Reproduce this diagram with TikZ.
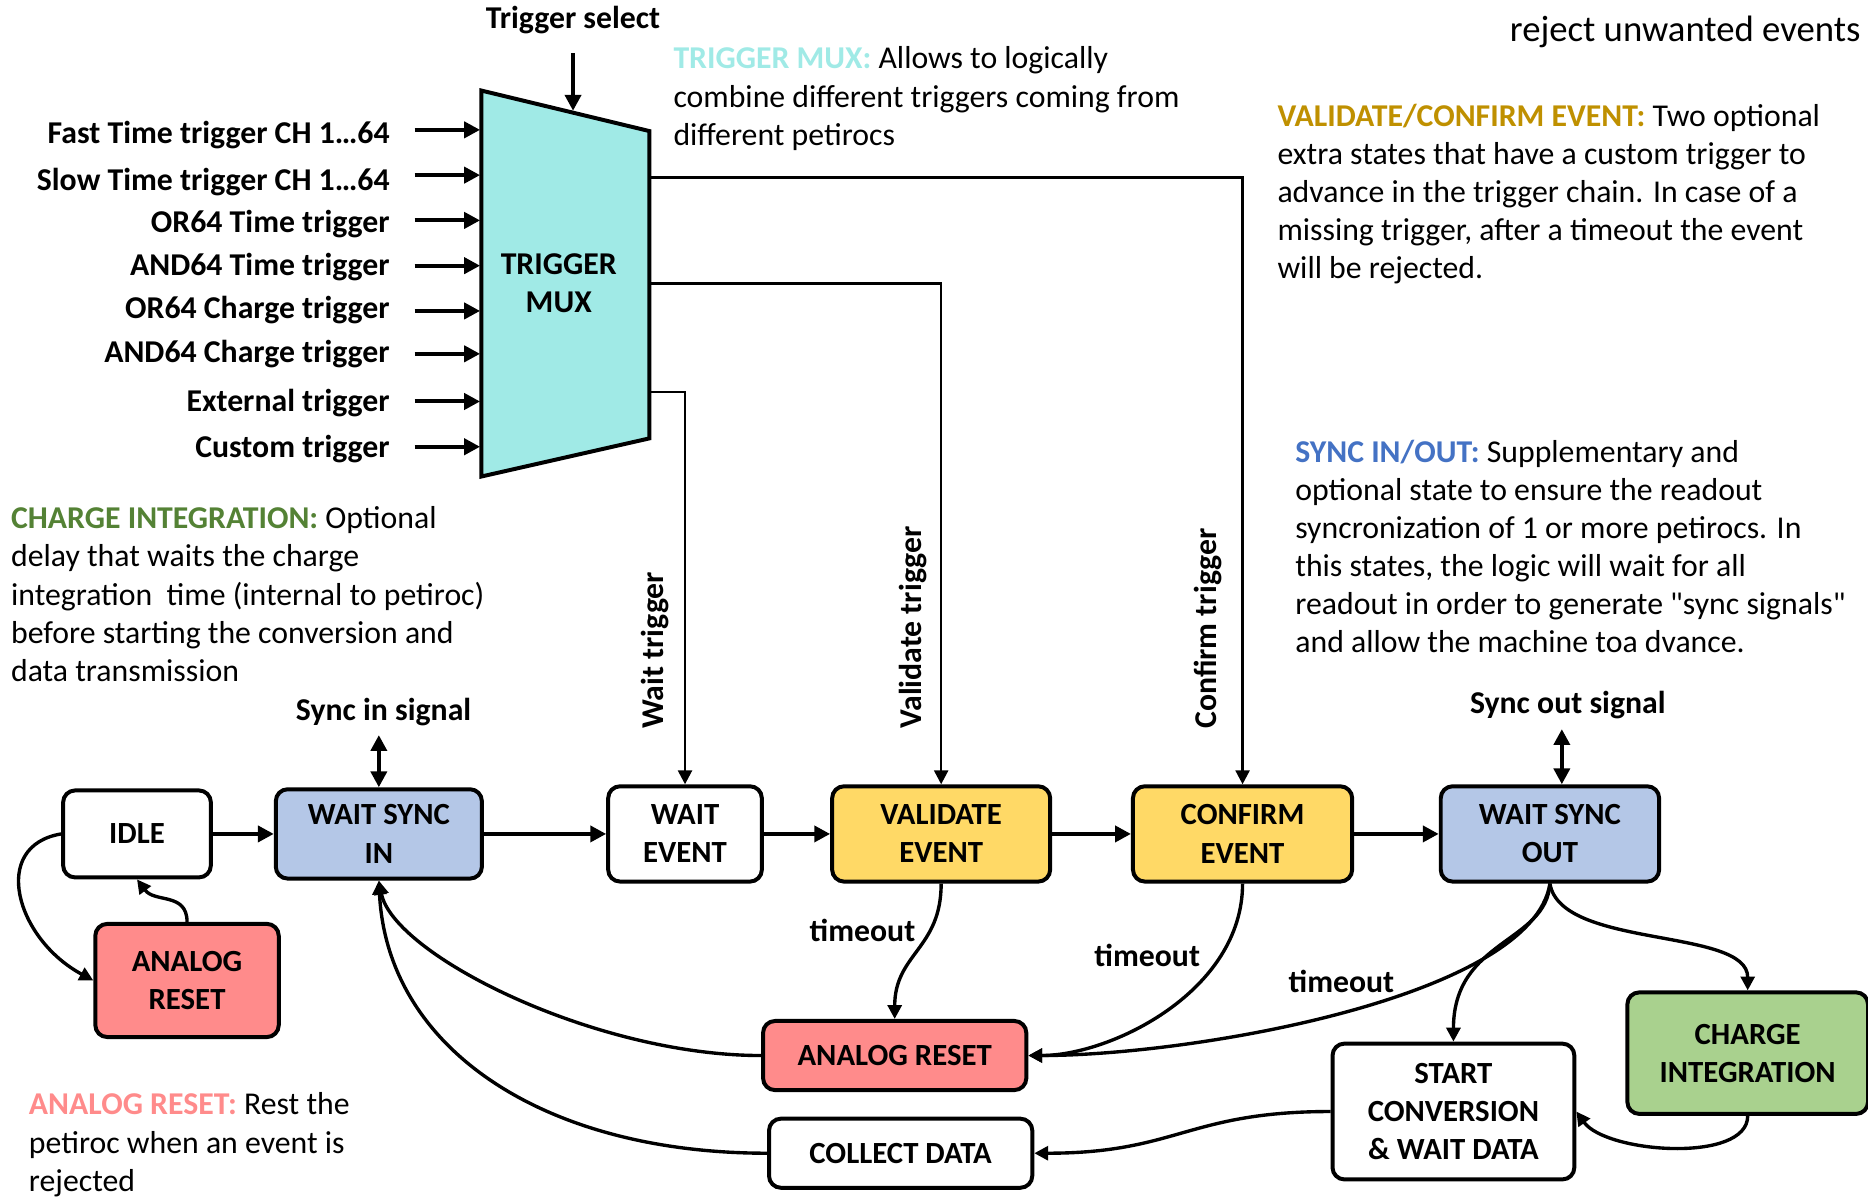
\documentclass[tikz,border=0pt]{standalone}
\usepackage{fontspec}
\setmainfont{Carlito}
\newfontfamily\plainfont{Carlito}
\usetikzlibrary{arrows.meta}
\definecolor{muxcyan}{HTML}{A0EAE6}
\definecolor{syncblue}{HTML}{B4C7E7}
\definecolor{synctext}{HTML}{4472C4}
\definecolor{eventgold}{HTML}{FFD966}
\definecolor{goldtext}{HTML}{BF9000}
\definecolor{resetred}{HTML}{FF8B8B}
\definecolor{chargegreen}{HTML}{A9D18E}
\definecolor{chargetext}{HTML}{548235}
\begin{document}
\begin{tikzpicture}[x=0.6pt,y=-0.6pt,>={Triangle[length=7pt,width=7pt]},
    every node/.style={font=\fontsize{16}{19.2}\selectfont},
    stbox/.style={draw,line width=2pt,rounded corners=6pt,align=center,inner sep=0pt,
      font=\bfseries\fontsize{15.5}{19.2}\selectfont},
    lbl/.style={align=center,font=\bfseries\fontsize{16}{19.2}\selectfont},
    desc/.style={align=left,anchor=north west,inner sep=0pt},
    wire/.style={line width=2pt,-{Triangle[length=8pt,width=8pt]}},
    curvy/.style={line width=1.7pt},
    trig/.style={line width=1.3pt}]
  \useasboundingbox (0,0) rectangle (1568,1006);
  % multiplexer
  \draw[line width=2pt,fill=muxcyan] (404,76) -- (545,110) -- (545,368) -- (404,400) -- cycle;
  \draw
    (469,238) node[lbl] (mux){TRIGGER\\MUX}
    (481,17) node[lbl] (tsel){Trigger select}
    (550,612) node[lbl,rotate=90,anchor=west,inner sep=0pt] (wtrig){Wait trigger}
    (766,612) node[lbl,rotate=90,anchor=west,inner sep=0pt] (vtrig){Validate trigger}
    (1014,612) node[lbl,rotate=90,anchor=west,inner sep=0pt] (ctrig){Confirm trigger}
    (322,598) node[lbl] (sinlbl){Sync in signal}
    (1316,592) node[lbl] (soutlbl){Sync out signal}
    (724,781) node[lbl] (tout1){timeout}
    (963,802) node[lbl] (tout2){timeout}
    (1126,824) node[lbl] (tout3){timeout};
  \coordinate (muxsel) at (481,93);
  \coordinate (mo1) at (545,149);
  \coordinate (mo2) at (545,238);
  \coordinate (mo3) at (545,329);
  \coordinate (sinp) at (318,617);
  \coordinate (soutp) at (1311,612);
  % states
  \draw
    (115,700) node[stbox,fill=white,minimum width=74.4pt,minimum height=43.8pt] (idle){IDLE}
    (318,700) node[stbox,fill=syncblue,minimum width=103.8pt,minimum height=45pt] (wsin){WAIT SYNC\\IN}
    (157,823) node[stbox,fill=resetred,minimum width=92.4pt,minimum height=57pt] (arleft){ANALOG\\RESET}
    (575,700) node[stbox,fill=white,minimum width=77.4pt,minimum height=48pt] (wev){WAIT\\EVENT}
    (790,700) node[stbox,fill=eventgold,minimum width=109.8pt,minimum height=48pt] (vev){VALIDATE\\EVENT}
    (1043,700) node[stbox,fill=eventgold,minimum width=110.4pt,minimum height=48pt] (cev){CONFIRM\\EVENT}
    (1301,700) node[stbox,fill=syncblue,minimum width=110pt,minimum height=48pt] (wsout){WAIT SYNC\\OUT}
    (751,886) node[stbox,fill=resetred,minimum width=132.6pt,minimum height=34.8pt] (armid){ANALOG RESET}
    (756,968) node[stbox,fill=white,minimum width=132.6pt,minimum height=34.8pt] (coll){COLLECT DATA}
    (1220,933) node[stbox,fill=white,minimum width=121.8pt,minimum height=68.4pt] (conv){START\\CONVERSION\\\& WAIT DATA}
    (1467,884) node[stbox,fill=chargegreen,minimum width=121.2pt,minimum height=61.2pt] (chint){CHARGE\\INTEGRATION};
  % notes
  \node[desc] (muxnote) at (565,39) {\textcolor{muxcyan}{\textbf{TRIGGER MUX:}} Allows to logically\\combine different triggers coming from\\different petirocs};
  \node[desc] (evnote) at (1072,87) {\textcolor{goldtext}{\textbf{VALIDATE/CONFIRM EVENT:}} Two optional\\extra states that have a custom trigger to\\advance in the trigger chain. In case of a\\missing trigger, after a timeout the event\\will be rejected.};
  \node[desc] (syncnote) at (1087,369) {\textcolor{synctext}{\textbf{SYNC IN/OUT:}} Supplementary and\\optional state to ensure the readout\\syncronization of 1 or more petirocs. In\\this states, the logic will wait for all\\readout in order to generate {\plainfont"sync signals"}\\and allow the machine toa dvance.};
  \node[desc] (chnote) at (9,425) {\textcolor{chargetext}{\textbf{CHARGE INTEGRATION:}} Optional\\delay that waits the charge\\integration~~time (internal to petiroc)\\before starting the conversion and\\data transmission};
  \node[desc] (arnote) at (24,917) {\textcolor{resetred}{\textbf{ANALOG RESET:}} Rest the\\petiroc when an event is\\rejected};
  \node[anchor=east,inner sep=0pt,font=\fontsize{18.5}{22}\selectfont] (rejnote) at (1562,27) {reject unwanted events};
  % trigger inputs
  \foreach \y/\ay/\txt [count=\i] in {113/109/Fast Time trigger CH 1…64,153/147/Slow Time trigger CH 1…64,
      188/185/OR64 Time trigger,224/223/AND64 Time trigger,260/261/OR64 Charge trigger,
      297/297/AND64 Charge trigger,338/337/External trigger,377/375/Custom trigger} {
    \node[lbl,anchor=east] (in\i) at (333,\y) {\txt};
    \coordinate (mi\i) at (403,\ay);
    \draw[wire] (in\i.east |- mi\i) ++(9pt,0) -- (mi\i);
  }
  \begin{scope}[->]
    \draw[wire,shorten <=6pt] (tsel) -- (muxsel);
    \draw[trig] (mo1) -| (cev.north);
    \draw[trig] (mo2) -| (vev.north);
    \draw[trig] (mo3) -| (wev.north);
    \draw[wire,{Triangle[length=8pt,width=8pt]}-{Triangle[length=8pt,width=8pt]}] (sinp) -- (wsin.north);
    \draw[wire,{Triangle[length=8pt,width=8pt]}-{Triangle[length=8pt,width=8pt]}] (soutp) -- (soutp |- wsout.north);
    \draw[wire] (idle) -- (wsin);
    \draw[wire] (wsin) -- (wev);
    \draw[wire] (wev) -- (vev);
    \draw[wire] (vev) -- (cev);
    \draw[wire] (cev) -- (wsout);
    \draw[curvy] (idle.west) .. controls +(-60,10) and +(-65,-35) .. (arleft.west);
    \draw[curvy] (arleft.north) .. controls +(0,-25) and +(15,20) .. (idle.south);
    \draw[curvy] (vev.south) .. controls +(0,55) and +(0,-55) .. (armid.north);
    \draw[curvy] (cev.south) .. controls +(0,90) and +(70,0) .. (armid.east);
    \draw[curvy] (wsout.south) .. controls +(-15,95) and +(139,0) .. (armid.east);
    \draw[curvy] (wsout.south) .. controls +(-3,50) and +(0,-86) .. (conv.north);
    \draw[curvy] (wsout.south) .. controls +(9,55) and +(0,-53) .. (chint.north);
    \draw[curvy] (chint.south) .. controls +(0,40) and +(25,35) .. (conv.east);
    \draw[curvy] (conv.west) .. controls +(-120,0) and +(120,0) .. (coll.east);
    \draw[curvy] (armid.west) .. controls +(-140,0) and +(12,62) .. (wsin.south);
    \draw[curvy] (coll.west) .. controls +(-186,0) and +(7,142) .. (wsin.south);
  \end{scope}
\end{tikzpicture}
\end{document}
